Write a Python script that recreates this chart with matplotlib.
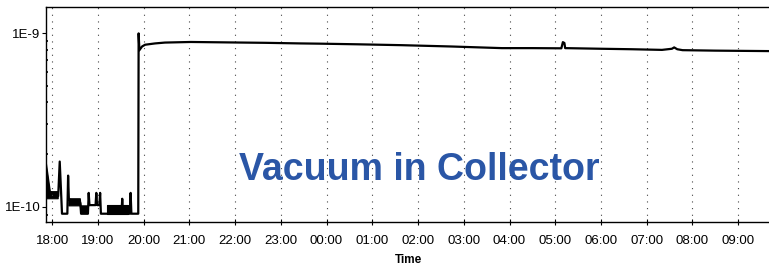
import pandas as pd
import numpy as np
import matplotlib
matplotlib.use('Agg')
import matplotlib.pyplot as plt
import matplotlib.dates as mdates
from matplotlib.ticker import LogLocator, FixedLocator, FixedFormatter, NullFormatter

plt.rcParams['font.family'] = ['Liberation Sans', 'DejaVu Sans']

# pressure trace (times, values in mbar)
trace_time = ['17:52', '17:57', '18:08', '18:10', '18:12', '18:13', '18:20', '18:21',
              '18:22', '18:37', '18:38', '18:47', '18:48', '18:49', '18:57', '18:58',
              '18:59', '19:02', '19:03', '19:04', '19:12', '19:31', '19:32', '19:33',
              '19:42', '19:43', '19:44', '19:53', '19:53:30', '19:54:30', '19:58',
              '20:02', '20:15', '20:28', '21:02', '22:00', '22:40', '23:26', '23:53',
              '00:40', '01:38', '02:44', '03:50', '04:30', '05:08', '05:10', '05:12',
              '05:13', '06:01', '06:40', '07:20', '07:33', '07:36', '07:40', '07:47',
              '08:30', '09:43']
trace_value = [1.75e-10, 1.22e-10, 1.15e-10, 1.82e-10, 1.15e-10, 0.91e-10, 0.91e-10, 1.51e-10,
               1.10e-10, 1.05e-10, 0.91e-10, 0.91e-10, 1.20e-10, 1.02e-10, 1.02e-10, 1.20e-10,
               1.02e-10, 1.02e-10, 1.20e-10, 0.91e-10, 0.91e-10, 0.91e-10, 1.11e-10, 0.91e-10,
               0.91e-10, 1.20e-10, 0.91e-10, 0.91e-10, 1.0e-9, 0.80e-9, 0.84e-9,
               0.86e-9, 0.875e-9, 0.885e-9, 0.892e-9, 0.886e-9, 0.882e-9, 0.875e-9, 0.872e-9,
               0.865e-9, 0.855e-9, 0.84e-9, 0.822e-9, 0.822e-9, 0.82e-9, 0.89e-9, 0.88e-9,
               0.822e-9, 0.815e-9, 0.81e-9, 0.803e-9, 0.815e-9, 0.83e-9, 0.81e-9, 0.80e-9,
               0.795e-9, 0.79e-9]

# noisy band segments (fast flicker between two levels)
band_time = ['17:52', '17:57', '18:08', '18:09', '18:22', '18:37', '18:38', '18:47', '18:48',
             '19:12', '19:40', '19:41']
band_low = [1.11e-10, 1.11e-10, 1.11e-10, np.nan, 1.01e-10, 1.01e-10, 0.91e-10, 0.91e-10, np.nan,
            0.91e-10, 0.91e-10, np.nan]
band_high = [1.75e-10, 1.22e-10, 1.22e-10, np.nan, 1.11e-10, 1.11e-10, 1.01e-10, 1.01e-10, np.nan,
             1.02e-10, 1.02e-10, np.nan]


def to_dt(times):
    # the run crosses midnight
    out = []
    for t in times:
        day = '2000-01-01' if int(t[:2]) >= 12 else '2000-01-02'
        out.append(pd.Timestamp(day + ' ' + t))
    return out


tx = to_dt(trace_time)
bx = to_dt(band_time)

fig = plt.figure(figsize=(7.69, 2.68), dpi=100)
ax = fig.add_axes([46 / 769, 46 / 268, 725 / 769, 215 / 268])

ax.fill_between(bx, band_low, band_high, color='black', linewidth=0.8)
ax.plot(tx, trace_value, color='black', linewidth=1.6)

ax.set_yscale('log')
ax.set_ylim(8.15e-11, 1.42e-9)
ax.set_xlim(pd.Timestamp('2000-01-01 17:52'), pd.Timestamp('2000-01-02 09:43'))

ax.yaxis.set_major_locator(FixedLocator([1e-10, 1e-9]))
ax.yaxis.set_major_formatter(FixedFormatter(['1E-10', '1E-9']))
ax.yaxis.set_minor_locator(LogLocator(base=10, subs=np.arange(2, 10)))
ax.yaxis.set_minor_formatter(NullFormatter())
ax.tick_params(axis='y', which='major', length=3, width=0.8, labelsize=9.5, pad=1)
ax.tick_params(axis='y', which='minor', direction='in', length=1.5, width=1.2)

ax.xaxis.set_major_locator(mdates.HourLocator())
ax.xaxis.set_major_formatter(mdates.DateFormatter('%H:%M'))
ax.tick_params(axis='x', which='major', direction='inout', length=5, width=0.8, labelsize=9.5, pad=7)
ax.grid(axis='x', color='#444444', linestyle=(0, (1, 5)), linewidth=0.8)

ax.spines['right'].set_visible(False)
for s in ['left', 'top', 'bottom']:
    ax.spines[s].set_linewidth(1.0)

ax.set_xlabel('Time', fontsize=8.5, fontweight='bold', labelpad=5)

fig.text(419 / 769, (268 - 180) / 268, 'Vacuum in Collector', color='#2A56A6',
         fontsize=27, fontweight='bold', ha='center', va='baseline')

fig.savefig('out.png', dpi=100)
